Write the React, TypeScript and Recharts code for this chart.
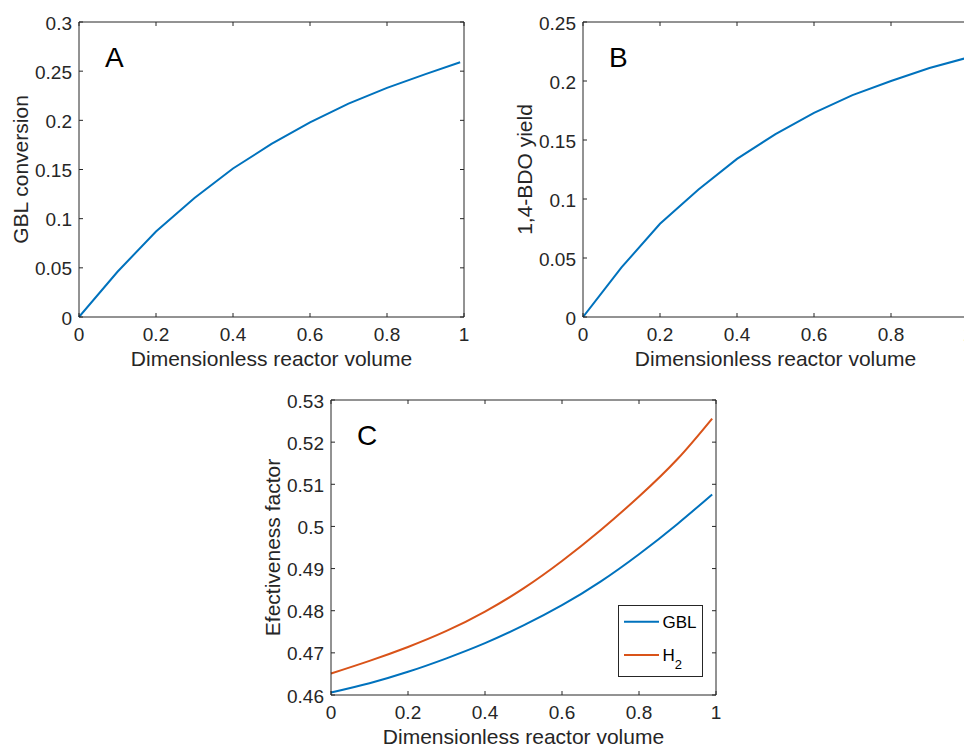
import React from 'react';
import { LineChart, Line, XAxis, YAxis, Legend } from 'recharts';

// ---------- data ----------
const volume = [0, 0.1, 0.2, 0.3, 0.4, 0.5, 0.6, 0.7, 0.8, 0.9, 0.99];
const gblConversion = [0, 0.046, 0.087, 0.121, 0.151, 0.176, 0.198, 0.217, 0.233, 0.247, 0.259];
const bdoYield = [0, 0.042, 0.079, 0.108, 0.134, 0.155, 0.173, 0.188, 0.2, 0.211, 0.219];
const effGBL = [0.4606, 0.4628, 0.4655, 0.4687, 0.4723, 0.4765, 0.4813, 0.4869, 0.4934, 0.5006, 0.5076];
const effH2 = [0.4651, 0.4681, 0.4714, 0.4752, 0.4798, 0.4853, 0.4918, 0.4991, 0.5071, 0.516, 0.5256];

const xTicks = [0, 0.2, 0.4, 0.6, 0.8, 1];
const yTicksA = [0, 0.05, 0.1, 0.15, 0.2, 0.25, 0.3];
const yTicksB = [0, 0.05, 0.1, 0.15, 0.2, 0.25];
const yTicksC = [0.46, 0.47, 0.48, 0.49, 0.5, 0.51, 0.52, 0.53];

const xLabel = 'Dimensionless reactor volume';

const dataA = volume.map((v, i) => ({ v, y: gblConversion[i] }));
const dataB = volume.map((v, i) => ({ v, y: bdoYield[i] }));
const dataC = volume.map((v, i) => ({ v, gbl: effGBL[i], h2: effH2[i] }));

// ---------- style ----------
const AXIS = '#262626';
const BLUE = '#0072BD';
const ORANGE = '#D95319';
const FONT = 'Arial, "Liberation Sans", Helvetica, sans-serif';
const TICK_FONT = 19;
const LABEL_FONT = 21;
const TICK_LEN = 4;

const Y_AXIS_W = 80;
const M_TOP = 29; // + 1px top axis
const M_RIGHT = 29; // + 1px right axis
const X_AXIS_H = 60;

const BottomTick = (p: any) => (
  <g>
    <line x1={p.x} x2={p.x} y1={p.y} y2={p.y - TICK_LEN} stroke={AXIS} strokeWidth={1} />
    <text x={p.x} y={p.y + 24} textAnchor="middle" fontSize={TICK_FONT} fill={AXIS} fontFamily={FONT}>
      {String(p.payload.value)}
    </text>
  </g>
);
const TopTick = (p: any) => (
  <line x1={p.x} x2={p.x} y1={p.y} y2={p.y + TICK_LEN} stroke={AXIS} strokeWidth={1} />
);
const LeftTick = (p: any) => (
  <g>
    <line x1={p.x} x2={p.x + TICK_LEN} y1={p.y} y2={p.y} stroke={AXIS} strokeWidth={1} />
    <text x={p.x - 7} y={p.y + 7.5} textAnchor="end" fontSize={TICK_FONT} fill={AXIS} fontFamily={FONT}>
      {String(p.payload.value)}
    </text>
  </g>
);
const RightTick = (p: any) => (
  <line x1={p.x} x2={p.x - TICK_LEN} y1={p.y} y2={p.y} stroke={AXIS} strokeWidth={1} />
);

const LegendBox = (props: any) => {
  const payload = props.payload || [];
  return (
    <svg width={86} height={73} style={{ display: 'block' }}>
      <rect x={0.5} y={0.5} width={84} height={71} fill="#fff" stroke={AXIS} strokeWidth={1} />
      {payload.map((e: any, i: number) => {
        const ly = i === 0 ? 16.7 : 50;
        const name = String(e.value);
        return (
          <g key={name}>
            <line x1={6} x2={41} y1={ly} y2={ly} stroke={e.color} strokeWidth={2} />
            {name === 'H2' ? (
              <text x={44.5} y={ly + 5.8} fontSize={17} fill="#000" fontFamily={FONT}>
                H
                <tspan dy={8.5} fontSize={13}>2</tspan>
              </text>
            ) : (
              <text x={44.5} y={ly + 5.8} fontSize={17} fill="#000" fontFamily={FONT}>
                {name}
              </text>
            )}
          </g>
        );
      })}
    </svg>
  );
};

type PanelProps = {
  plotX: number;
  plotY: number;
  plotW: number;
  plotH: number;
  data: any[];
  yDomain: [number, number];
  yTicks: number[];
  yLabel: string;
  letter: string;
  series: { key: string; name: string; color: string; type: 'linear' | 'monotone' | 'natural' }[];
  legend?: boolean;
};

const Panel = ({ plotX, plotY, plotW, plotH, data, yDomain, yTicks, yLabel, letter, series, legend }: PanelProps) => {
  const width = Y_AXIS_W + plotW + 1 + M_RIGHT;
  const height = M_TOP + 1 + plotH + X_AXIS_H;
  const left = plotX - Y_AXIS_W;
  const top = plotY - M_TOP - 1;
  const px = Y_AXIS_W; // plot left within chart
  const py = M_TOP + 1; // plot top within chart
  return (
    <div style={{ position: 'absolute', left, top, width, height }}>
      <LineChart width={width} height={height} data={data} margin={{ top: M_TOP, right: M_RIGHT, bottom: 0, left: 0 }}>
        <XAxis
          xAxisId="b"
          dataKey="v"
          type="number"
          domain={[0, 1]}
          ticks={xTicks}
          interval={0}
          height={X_AXIS_H}
          tickSize={0}
          tickMargin={0}
          tickLine={false}
          stroke={AXIS}
          tick={BottomTick}
          label={{
            content: () => (
              <text x={px + plotW / 2} y={py + plotH + 49} textAnchor="middle" fontSize={LABEL_FONT} fill={AXIS} fontFamily={FONT}>
                {xLabel}
              </text>
            ),
          }}
        />
        <XAxis
          xAxisId="t"
          orientation="top"
          dataKey="v"
          type="number"
          domain={[0, 1]}
          ticks={xTicks}
          interval={0}
          height={1}
          tickSize={0}
          tickMargin={0}
          tickLine={false}
          stroke={AXIS}
          tick={TopTick}
          label={{
            content: () => (
              <text x={px + 26} y={py + 45} fontSize={28} fill="#000" fontFamily={FONT}>
                {letter}
              </text>
            ),
          }}
        />
        <YAxis
          yAxisId="l"
          type="number"
          domain={yDomain}
          ticks={yTicks}
          interval={0}
          width={Y_AXIS_W}
          tickSize={0}
          tickMargin={0}
          tickLine={false}
          stroke={AXIS}
          tick={LeftTick}
          allowDataOverflow
          label={{
            content: () => {
              const cx = px - 51;
              const cy = py + plotH / 2;
              return (
                <text x={cx} y={cy} transform={`rotate(-90 ${cx} ${cy})`} textAnchor="middle" fontSize={LABEL_FONT} fill={AXIS} fontFamily={FONT}>
                  {yLabel}
                </text>
              );
            },
          }}
        />
        <YAxis
          yAxisId="r"
          orientation="right"
          type="number"
          domain={yDomain}
          ticks={yTicks}
          interval={0}
          width={1}
          tickSize={0}
          tickMargin={0}
          tickLine={false}
          stroke={AXIS}
          tick={RightTick}
          allowDataOverflow
        />
        {series.map((s) => (
          <Line
            key={s.key}
            xAxisId="b"
            yAxisId="l"
            dataKey={s.key}
            name={s.name}
            type={s.type}
            stroke={s.color}
            strokeWidth={2}
            dot={false}
            activeDot={false}
            isAnimationActive={false}
          />
        ))}
        {legend && (
          <Legend
            layout="vertical"
            align="center"
            verticalAlign="middle"
            content={LegendBox}
            wrapperStyle={{ left: 618 - left, top: 605 - top, width: 86, height: 73, margin: 0, padding: 0 }}
          />
        )}
      </LineChart>
    </div>
  );
};

export default function App() {
  return (
    <div
      style={{
        position: 'absolute',
        left: 0,
        top: 0,
        width: 964,
        height: 747,
        overflow: 'hidden',
        background: '#fff',
      }}
    >
      <Panel
        plotX={78.5}
        plotY={21.5}
        plotW={385}
        plotH={295}
        data={dataA}
        yDomain={[0, 0.3]}
        yTicks={yTicksA}
        yLabel="GBL conversion"
        letter="A"
        series={[{ key: 'y', name: 'GBL conversion', color: BLUE, type: 'linear' }]}
      />
      <Panel
        plotX={582.5}
        plotY={21.5}
        plotW={385}
        plotH={295}
        data={dataB}
        yDomain={[0, 0.25]}
        yTicks={yTicksB}
        yLabel="1,4-BDO yield"
        letter="B"
        series={[{ key: 'y', name: '1,4-BDO yield', color: BLUE, type: 'linear' }]}
      />
      <Panel
        plotX={330.5}
        plotY={399.5}
        plotW={385}
        plotH={295}
        data={dataC}
        yDomain={[0.46, 0.53]}
        yTicks={yTicksC}
        yLabel="Efectiveness factor"
        letter="C"
        series={[
          { key: 'gbl', name: 'GBL', color: BLUE, type: 'natural' },
          { key: 'h2', name: 'H2', color: ORANGE, type: 'natural' },
        ]}
        legend
      />
    </div>
  );
}
